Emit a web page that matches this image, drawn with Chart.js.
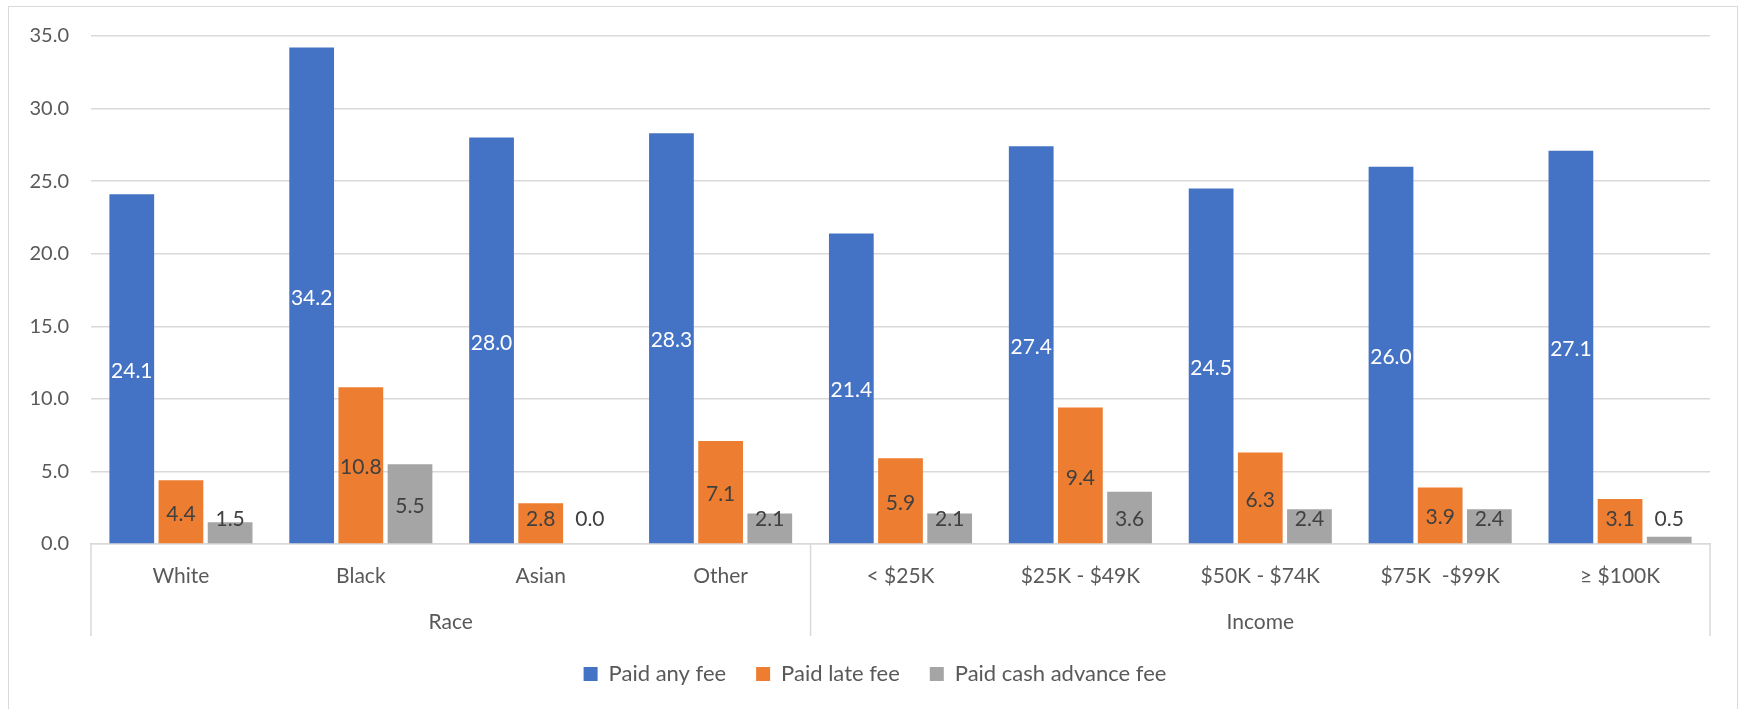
<!DOCTYPE html>
<html>
<head>
<meta charset="utf-8">
<script src="https://cdn.jsdelivr.net/npm/chart.js@4/dist/chart.umd.min.js"></script>
<style>
  html, body { margin: 0; padding: 0; background: #fff; }
  #wrap { width: 1739px; height: 709px; position: relative; }
</style>
</head>
<body>
<div id="wrap"><canvas id="chart"></canvas></div>
<script>
// categories and groups
const categories = ['White', 'Black', 'Asian', 'Other', '< $25K', '$25K - $49K', '$50K - $74K', '$75K  -$99K', '≥ $100K'];
const groupNames = ['Race', 'Income'];
const groupSizes = [4, 5];

// series
const seriesNames = ['Paid any fee', 'Paid late fee', 'Paid cash advance fee'];
const paidAnyFee = [24.1, 34.2, 28.0, 28.3, 21.4, 27.4, 24.5, 26.0, 27.1];
const paidLateFee = [4.4, 10.8, 2.8, 7.1, 5.9, 9.4, 6.3, 3.9, 3.1];
const paidCashAdvanceFee = [1.5, 5.5, 0.0, 2.1, 2.1, 3.6, 2.4, 2.4, 0.5];

const yTicks = [0, 5, 10, 15, 20, 25, 30, 35];

const FONT = 'Lato, "Open Sans", sans-serif';
const colors = ['#4472C4', '#ED7D31', '#A5A5A5'];
const labelColors = ['#ffffff', '#404040', '#404040'];
const gridColor = '#d9d9d9';
const textColor = '#595959';

// border around the whole chart
const frame = {
  id: 'frame',
  beforeDraw(chart) {
    const ctx = chart.ctx;
    ctx.save();
    ctx.fillStyle = '#fff';
    ctx.fillRect(0, 0, chart.width, chart.height);
    ctx.strokeStyle = '#d9d9d9';
    ctx.lineWidth = 1;
    ctx.strokeRect(8.5, 6.5, 1729, 720);
    ctx.restore();
  }
};

// legend sits a little right of the canvas centre in the original
const legendShift = {
  id: 'legendShift',
  afterLayout(chart) {
    if (chart.legend) {
      chart.legend.left += 20;
      chart.legend.right += 20;
    }
  }
};

// value labels, centred in the bar like Excel
const valueLabels = {
  id: 'valueLabels',
  afterDatasetsDraw(chart) {
    const ctx = chart.ctx;
    const base = chart.scales.y.getPixelForValue(0);
    ctx.save();
    ctx.font = '21px ' + FONT;
    ctx.textAlign = 'center';
    ctx.textBaseline = 'middle';
    chart.data.datasets.forEach((ds, i) => {
      chart.getDatasetMeta(i).data.forEach((bar, j) => {
        const v = ds.data[j];
        const mid = (bar.y + base) / 2 + 2;
        const y = Math.min(mid, base - 25);
        const inside = (base - bar.y) > 30;
        ctx.fillStyle = inside ? labelColors[i] : '#404040';
        ctx.fillText(v.toFixed(1), bar.x, y);
      });
    });
    ctx.restore();
  }
};

// second level of the category axis: group names and divider lines
const groupAxis = {
  id: 'groupAxis',
  afterDraw(chart) {
    const ctx = chart.ctx;
    const x = chart.scales.x;
    const top = chart.chartArea.bottom;
    const bottom = top + 92;
    const half = (x.getPixelForValue(1) - x.getPixelForValue(0)) / 2;
    ctx.save();
    ctx.strokeStyle = gridColor;
    ctx.lineWidth = 1.5;
    ctx.fillStyle = textColor;
    ctx.font = '21px ' + FONT;
    ctx.textAlign = 'center';
    ctx.textBaseline = 'middle';
    let start = 0;
    const edges = [x.left];
    groupSizes.forEach((n, g) => {
      const l = x.getPixelForValue(start) - half;
      const r = x.getPixelForValue(start + n - 1) + half;
      edges.push(r);
      ctx.fillText(groupNames[g], (l + r) / 2, top + 78);
      start += n;
    });
    edges.forEach(px => {
      ctx.beginPath();
      ctx.moveTo(px, top);
      ctx.lineTo(px, bottom);
      ctx.stroke();
    });
    ctx.restore();
  }
};

new Chart(document.getElementById('chart'), {
  type: 'bar',
  data: {
    labels: categories,
    datasets: [paidAnyFee, paidLateFee, paidCashAdvanceFee].map((d, i) => ({
      label: seriesNames[i],
      data: d,
      backgroundColor: colors[i],
      borderWidth: 0,
      barPercentage: 0.91,
      categoryPercentage: 0.82
    }))
  },
  options: {
    responsive: true,
    maintainAspectRatio: false,
    animation: false,
    layout: { padding: { top: 36, right: 29, bottom: 14, left: 0 } },
    plugins: {
      tooltip: { enabled: false },
      legend: {
        position: 'bottom',
        labels: {
          boxWidth: 14,
          boxHeight: 14,
          padding: 30,
          color: textColor,
          font: { family: FONT, size: 22 }
        }
      }
    },
    scales: {
      x: {
        grid: { display: false, drawTicks: false },
        border: { display: true, color: gridColor, width: 1.5 },
        ticks: { color: textColor, font: { family: FONT, size: 21 }, padding: 20, maxRotation: 0, autoSkip: false },
        afterFit(scale) { scale.height = 89; }
      },
      y: {
        min: 0,
        max: 35,
        afterBuildTicks(scale) { scale.ticks = yTicks.map(v => ({ value: v })); },
        grid: { color: gridColor, lineWidth: 1.5, drawTicks: false },
        border: { display: false },
        ticks: {
          color: textColor,
          font: { family: FONT, size: 20 },
          padding: 22,
          callback: v => v.toFixed(1)
        },
        afterFit(scale) { scale.width = 91; }
      }
    }
  },
  plugins: [frame, legendShift, valueLabels, groupAxis]
});
</script>
</body>
</html>
